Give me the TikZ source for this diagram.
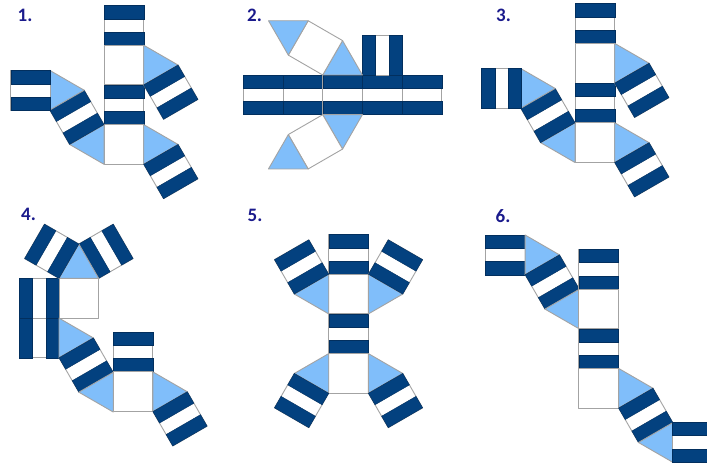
\documentclass[tikz,border=0pt]{standalone}
\usepackage{fontspec}
\setmainfont{Carlito}
\usepackage{tikz}
\definecolor{bandblue}{HTML}{03417F}
\definecolor{bandedge}{HTML}{022F5E}
\definecolor{triblue}{HTML}{80BEFA}
\definecolor{edgegray}{HTML}{A3A3A3}
\definecolor{labelblue}{HTML}{1A1A8C}
\newcommand{\sz}{39.7}

\begin{document}
\begin{tikzpicture}[
    x=1pt, y=-1pt,
    edge/.style={draw=edgegray, line width=0.9pt, line join=round},
    stripe/.style={fill=bandblue, draw=bandedge, line width=0.4pt},
    numlabel/.style={text=labelblue, font=\fontsize{19}{19}\selectfont\bfseries, inner sep=0pt},
    plainface/.pic={
        \draw [edge, fill=white] (0,0) rectangle (\sz,\sz);
    },
    bandface/.pic={
        \draw [edge, fill=white] (0,0) rectangle (\sz,\sz);
        \draw [stripe] (0,0) rectangle (\sz,{\sz/3});
        \draw [stripe] (0,{2*\sz/3}) rectangle (\sz,\sz);
    },
    triface/.pic={
        \draw [edge, fill=triblue] (0,0) -- (\sz,0) -- ({\sz/2},{0.866*\sz}) -- cycle;
    },
    wing/.pic={
        \pic [transform shape] at (0,0) {triface};
        \pic [transform shape, rotate=-60] at (0,0) {bandface};
    },
    wingback/.pic={
        \pic [transform shape] at (0,0) {triface};
        \pic [transform shape, rotate=60] at ({\sz/2},{0.866*\sz}) {bandface};
    },
    longwing/.pic={
        \pic [transform shape] at (0,0) {wing};
        \pic [transform shape, rotate=-60] at ({-0.866*\sz},{0.5*\sz}) {triface};
    }
]

    \useasboundingbox (0,0) rectangle (707,465);
    \clip (0,0) rectangle (707,465);
    \fill [white] (0,0) rectangle (707,465);

    % Net 1
    \node (numone) at (25,15) [numlabel] {1.};
    \pic at (104,5.5) {bandface};
    \pic at (104,45.2) {plainface};
    \pic at (104,84.9) {bandface};
    \pic at (104,124.6) {plainface};
    \pic [rotate=90] at (143.7,84.9) {wing};
    \pic [rotate=90] at (143.7,164.3) {wing};
    \pic [rotate=-90] at (104,124.6) {longwing};
    \pic at (10.7,70.5) {bandface};

    % Net 2
    \node (numtwo) at (254.5,15) [numlabel] {2.};
    \pic at (243.3,75) {bandface};
    \pic at (283,75) {bandface};
    \pic at (322.7,75) {bandface};
    \pic at (362.4,75) {bandface};
    \pic at (402.1,75) {bandface};
    \pic [rotate=-90] at (402.1,35.3) {bandface};
    \pic [rotate=180] at (362.4,75) {triface};
    \pic [rotate=-120] at (342.55,40.6) {plainface};
    \pic [rotate=-120] at (308.2,20.75) {triface};
    \pic at (322.7,114.7) {triface};
    \pic [rotate=-60] at (322.7,114.7) {plainface};
    \pic [rotate=-60] at (288.3,134.6) {triface};

    % Net 3
    \node (numthree) at (503.5,15.5) [numlabel] {3.};
    \pic at (575,3.7) {bandface};
    \pic at (575,43.4) {plainface};
    \pic at (575,83.1) {bandface};
    \pic at (575,122.8) {plainface};
    \pic [rotate=90] at (614.7,83.1) {wing};
    \pic [rotate=90] at (614.7,162.5) {wing};
    \pic [rotate=-90] at (575,122.8) {longwing};
    \pic [rotate=-90] at (521.3,68.5) {bandface};

    % Net 4
    \node (numfour) at (28.5,214.5) [numlabel] {4.};
    \pic [rotate=-90] at (59,278.4) {bandface};
    \pic [rotate=-90] at (59,318.1) {bandface};
    \pic at (59,278.4) {plainface};
    \pic [rotate=180] at (98.7,278.4) {wing};
    \pic [rotate=180] at (98.7,278.4) {wingback};
    \pic [rotate=90] at (59,357.8) {longwing};
    \pic at (113.2,332.2) {bandface};
    \pic at (113.2,371.9) {plainface};
    \pic [rotate=90] at (152.9,411.6) {wing};

    % Net 5
    \node (numfive) at (255,215) [numlabel] {5.};
    \pic at (328.7,234.5) {bandface};
    \pic at (328.7,274.2) {plainface};
    \pic at (328.7,313.9) {bandface};
    \pic at (328.7,353.6) {plainface};
    \pic [rotate=-90] at (328.7,274.2) {wing};
    \pic [rotate=90] at (368.4,313.9) {wingback};
    \pic [rotate=-90] at (328.7,353.6) {wingback};
    \pic [rotate=90] at (368.4,393.3) {wing};

    % Net 6
    \node (numsix) at (503,216) [numlabel] {6.};
    \pic at (485.4,235) {bandface};
    \pic [rotate=90] at (525.1,274.7) {longwing};
    \pic at (578.9,249.3) {bandface};
    \pic at (578.9,289) {plainface};
    \pic at (578.9,328.7) {bandface};
    \pic at (578.9,368.4) {plainface};
    \pic [rotate=90] at (618.6,408.1) {longwing};
    \pic at (672.5,422.3) {bandface};

\end{tikzpicture}
\end{document}
